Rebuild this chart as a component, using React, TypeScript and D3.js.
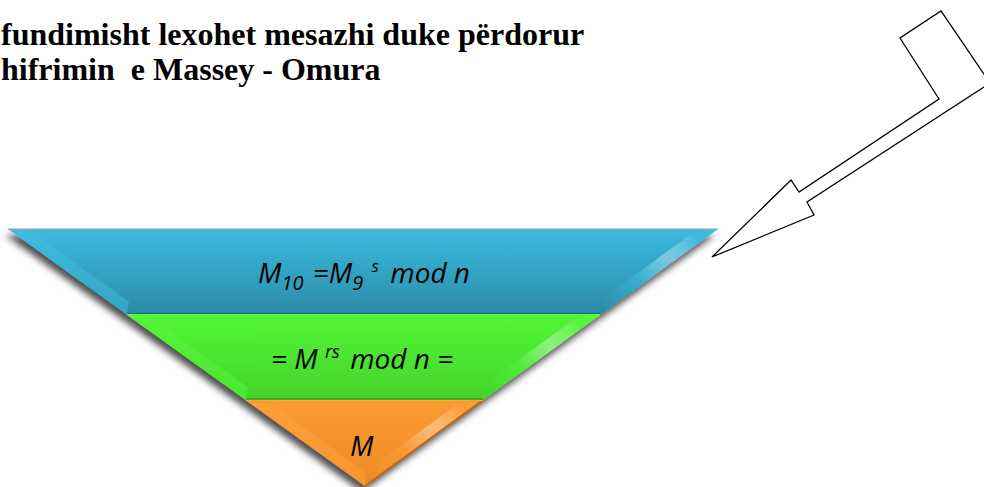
import React from "react";
import * as d3 from "d3";

const W = 984;
const H = 487;

const titleLines = ["fundimisht lexohet mesazhi duke përdorur", "hifrimin  e Massey - Omura"];

const layerNames = ["blue", "green", "orange"];
const layerTop = ["#3cbadf", "#52f535", "#fc9a33"];
const layerBottom = ["#2b8ca8", "#44d42c", "#ee8a25"];
const layerStrip = ["#40c1e4", "#5cf740", "#ffa540"];
const layerEdge = ["#1f6f86", "#2f9c1f", "#c06a14"];

// arrow outline vertices (diagram shape, in pixels)
const arrowOutline: [number, number][] = [
  [712, 257], [791, 180], [799, 192], [939, 99], [900, 38], [941, 11], [990, 83], [807, 202], [814, 215],
];

// pyramid frame
const pyrTop = 229;
const pyrApex = 486;
const pyrLeft = 8;
const pyrRight = 718;
const pyrMid = 365;

export default function App() {
  const y = d3.scaleLinear().domain([0, layerNames.length]).range([pyrTop, pyrApex]);
  const xl = d3.scaleLinear().domain([pyrTop, pyrApex]).range([pyrLeft, pyrMid]);
  const xr = d3.scaleLinear().domain([pyrTop, pyrApex]).range([pyrRight, pyrMid]);
  const line = d3.line();
  const closed = (pts: [number, number][]) => line(pts) + "Z";
  const shift = 20;
  const topIn = 4;
  const botIn = 13;

  const bands = layerNames.map((name, i) => {
    const yt = y(i);
    const yb = y(i + 1);
    const last = i === layerNames.length - 1;
    const outer: [number, number][] = last
      ? [[xl(yt), yt], [xr(yt), yt], [pyrMid, yb]]
      : [[xl(yt), yt], [xr(yt), yt], [xr(yb), yb], [xl(yb), yb]];
    const yti = yt + topIn;
    let inner: [number, number][];
    if (last) {
      const apexY = pyrApex - (2 * shift) / ((pyrRight - pyrLeft) / (pyrApex - pyrTop));
      inner = [[xl(yti) + shift, yti], [xr(yti) - shift, yti], [pyrMid, apexY]];
    } else {
      const ybi = yb - botIn;
      inner = [[xl(yti) + shift, yti], [xr(yti) - shift, yti], [xr(ybi) - shift, ybi], [xl(ybi) + shift, ybi]];
    }
    const leftStrip: [number, number][] = last
      ? [outer[0], inner[0], inner[2], outer[2]]
      : [outer[0], inner[0], inner[3], outer[3]];
    const rightStrip: [number, number][] = [outer[1], inner[1], inner[2], outer[2]];
    const bottomStrip: [number, number][] | null = last ? null : [inner[3], inner[2], outer[2], outer[3]];
    return { name, i, yt, yb, outer, inner, leftStrip, rightStrip, bottomStrip };
  });

  const mathFont = "'Open Sans', 'Noto Sans', sans-serif";

  return (
    <svg width={W} height={H} style={{ position: "absolute", left: 0, top: 0, background: "#fff" }}>
      <defs>
        <filter id="shadow" x="-10%" y="-10%" width="120%" height="130%">
          <feDropShadow dx="-3" dy="6" stdDeviation="3.5" floodColor="#000" floodOpacity="0.7" />
        </filter>
        {bands.map((b) => (
          <linearGradient key={b.name} id={"g" + b.i} gradientUnits="userSpaceOnUse" x1="0" y1={b.yt} x2="0" y2={b.yb}>
            <stop offset="0" stopColor={layerTop[b.i]} />
            <stop offset="1" stopColor={layerBottom[b.i]} />
          </linearGradient>
        ))}
        {bands.map((b) => (
          <linearGradient key={"r" + b.name} id={"hr" + b.i} gradientUnits="userSpaceOnUse"
            x1={b.rightStrip[1][0]} y1={b.rightStrip[1][1]} x2={b.rightStrip[2][0]} y2={b.rightStrip[2][1]}>
            <stop offset="0" stopColor={layerStrip[b.i]} stopOpacity="0.5" />
            <stop offset="0.3" stopColor="#ffffff" stopOpacity="0.35" />
            <stop offset="0.6" stopColor={layerStrip[b.i]} stopOpacity="0.45" />
            <stop offset="1" stopColor={layerBottom[b.i]} stopOpacity="0.6" />
          </linearGradient>
        ))}
      </defs>

      <g fontFamily="'Liberation Serif', 'Times New Roman', serif" fontWeight="bold" fontSize="32" fill="#000">
        {titleLines.map((t, i) => (
          <text key={i} x={1} y={45 + i * 35} xmlSpace="preserve">{t}</text>
        ))}
      </g>

      <g filter="url(#shadow)">
        {bands.map((b) => (
          <path key={b.name} d={closed(b.outer)} fill={`url(#g${b.i})`} />
        ))}
      </g>
      {bands.map((b) => (
        <g key={"bev" + b.name}>
          <path d={closed(b.leftStrip)} fill={layerStrip[b.i]} opacity="0.45" />
          <path d={closed(b.rightStrip)} fill={`url(#hr${b.i})`} />
          {b.bottomStrip && <path d={closed(b.bottomStrip)} fill={layerBottom[b.i]} opacity="0.5" />}
          <path d={closed(b.inner)} fill={`url(#g${b.i})`} opacity="0.6" />
          {b.bottomStrip ? (
            <line x1={b.outer[3][0]} y1={b.yb - 1} x2={b.outer[2][0]} y2={b.yb - 1} stroke={layerEdge[b.i]} strokeWidth="2" />
          ) : (
            <path d={line([b.outer[1], b.outer[2]]) || ""} stroke={layerEdge[b.i]} strokeWidth="2" fill="none" />
          )}
          <path d={line([b.outer[0], b.outer[1]]) || ""} stroke={b.i === 0 ? "#9aa7ad" : layerStrip[b.i]} strokeWidth="1.2" fill="none" />
        </g>
      ))}

      <g fontFamily={mathFont} fontStyle="italic" fill="#000">
        <text x={258} y={283} fontSize="28">
          M<tspan fontSize="20" dy="7">10</tspan>
          <tspan dy="-7" dx="2"> =M</tspan>
          <tspan fontSize="20" dy="7">9</tspan>
          <tspan fontSize="17" dy="-18" dx="4"> s</tspan>
          <tspan dy="11" dx="4"> mod n</tspan>
        </text>
        <text x={271} y={369} fontSize="28" xmlSpace="preserve">
          = M <tspan fontSize="18" dy="-11">rs</tspan><tspan dy="11" dx="3"> mod n =</tspan>
        </text>
        <text x={350} y={456} fontSize="28">M</text>
      </g>

      <path d={closed(arrowOutline)} fill="#fff" stroke="#000" strokeWidth="1.3" strokeLinejoin="miter" />
    </svg>
  );
}
